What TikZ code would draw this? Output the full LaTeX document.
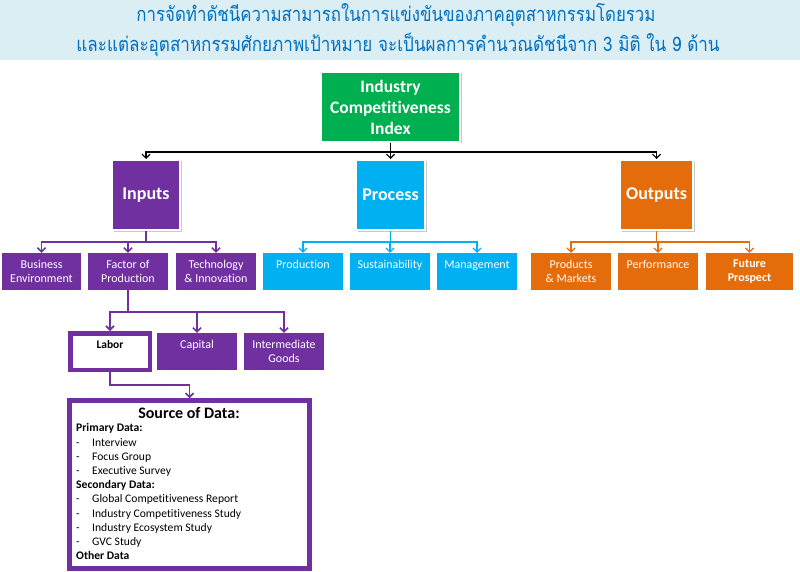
\documentclass[tikz,border=0pt]{standalone}
\usepackage{fontspec}
\usepackage{graphicx}
\setmainfont{Carlito}[Ligatures=NoCommon]
\newfontfamily\thaifont[Script=Thai]{Loma}
\usetikzlibrary{arrows.meta,shadows}
\definecolor{ipurple}{RGB}{112,48,160}
\definecolor{icyan}{RGB}{0,176,240}
\definecolor{iorange}{RGB}{228,108,10}
\definecolor{igreen}{RGB}{0,176,80}
\definecolor{hdrbg}{RGB}{219,238,244}
\definecolor{hdrtxt}{RGB}{0,112,192}
\begin{document}
\begin{tikzpicture}[x=1pt,y=-1pt,
  titletext/.style={text=hdrtxt, font=\thaifont\fontsize{20}{22}\selectfont, inner sep=0pt},
  mainbox/.style={draw=white, line width=2pt, text=white, align=center, inner sep=0pt,
    minimum height=70pt, font=\bfseries\fontsize{18}{21}\selectfont,
    drop shadow={shadow xshift=1.5pt, shadow yshift=-1.5pt, opacity=0.35, fill=black!60}},
  subbox/.style={minimum height=37pt, minimum width=80pt, text=white, align=center,
    inner sep=0pt, font=\fontsize{12}{14}\selectfont},
  tipv/.style={-{Straight Barb[length=4pt,width=8pt]}},
  blkconn/.style={draw=black, line width=1.2pt, tipv},
  purconn/.style={draw=ipurple, line width=1.6pt, tipv},
  cyconn/.style={draw=icyan, line width=1.2pt, tipv},
  orconn/.style={draw=iorange, line width=1.2pt, tipv},
  thickbox/.style={draw=ipurple, line width=4.5pt, fill=white, inner sep=0pt}
]
\useasboundingbox (0,0) rectangle (800,572);
\fill[hdrbg] (0,0) rectangle (800,60);
\node[titletext] (t1) at (396,15) {\resizebox{519pt}{\height}{การจัดทำดัชนีความสามารถในการแข่งขันของภาคอุตสาหกรรมโดยรวม}};
\node[titletext] (t2) at (398,45) {\resizebox{643pt}{\height}{และแต่ละอุตสาหกรรมศักยภาพเป้าหมาย จะเป็นผลการคำนวณดัชนีจาก 3 มิติ ใน 9 ด้าน}};

% main boxes
\node[mainbox, fill=igreen, minimum width=139pt, font=\bfseries\fontsize{17.5}{21}\selectfont] (ici) at (390.5,107) {Industry\\Competitiveness\\Index};
\node[mainbox, fill=ipurple, minimum width=68pt] (inputs) at (146,195) {Inputs};
\node[mainbox, fill=icyan, minimum width=69pt] (process) at (390.5,195) {Process};
\node[mainbox, fill=iorange, minimum width=73pt] (outputs) at (656.5,195) {Outputs};

% sub boxes
\node[subbox, fill=ipurple, minimum width=79pt] (be) at (41.5,271.5) {Business\\Environment};
\node[subbox, fill=ipurple] (fop) at (128,271.5) {Factor of\\Production};
\node[subbox, fill=ipurple] (ti) at (216,271.5) {Technology\\\& Innovation};
\node[subbox, fill=icyan] (prod) at (303,271.5) {Production\\\mbox{}};
\node[subbox, fill=icyan] (sus) at (390,271.5) {Sustainability\\\mbox{}};
\node[subbox, fill=icyan] (man) at (477,271.5) {Management\\\mbox{}};
\node[subbox, fill=iorange] (pm) at (571,271.5) {Products\\\& Markets};
\node[subbox, fill=iorange] (perf) at (658,271.5) {Performance\\\mbox{}};
\node[subbox, fill=iorange, minimum width=87pt, font=\bfseries\fontsize{12}{14}\selectfont] (fut) at (749.5,271.5) {Future\\Prospect};

% factor sub boxes
\node[thickbox, minimum width=79.5pt, minimum height=36.5pt, align=center,
  font=\bfseries\fontsize{11.5}{14}\selectfont] (labor) at (110,351.5) {Labor\\\mbox{}};
\node[subbox, fill=ipurple] (cap) at (197,351.5) {Capital\\\mbox{}};
\node[subbox, fill=ipurple] (ig) at (284,351.5) {Intermediate\\Goods};

% source box
\node[thickbox, minimum width=240pt, minimum height=168pt] (src) at (189.5,484.5) {};
\node[font=\bfseries\fontsize{16}{18}\selectfont, inner sep=0pt] (srctitle) at (189,413) {Source of Data:};
\node[anchor=north west, align=left, inner sep=0pt, font=\fontsize{11.6}{14.2}\selectfont] (srclist) at (76,423.5)
{\textbf{Primary Data:}\\
\makebox[16pt][l]{-}Interview\\
\makebox[16pt][l]{-}Focus Group\\
\makebox[16pt][l]{-}Executive Survey\\
\textbf{Secondary Data:}\\
\makebox[16pt][l]{-}Global Competitiveness Report\\
\makebox[16pt][l]{-}Industry Competitiveness Study\\
\makebox[16pt][l]{-}Industry Ecosystem Study\\
\makebox[16pt][l]{-}GVC Study\\
\textbf{Other Data}};

% connectors
\foreach \t in {inputs,process,outputs}
  \draw[blkconn] (ici.south) -- (ici.south |- 0,152) -| (\t.north);
\foreach \t in {be,fop,ti}
  \draw[purconn] (inputs.south) -- (inputs.south |- 0,242) -| (\t.north);
\foreach \t in {prod,sus,man}
  \draw[cyconn] (process.south) -- (process.south |- 0,242) -| (\t.north);
\foreach \t in {pm,perf,fut}
  \draw[orconn] (outputs.south) -- (outputs.south |- 0,242) -| (\t.north);
\foreach \t in {labor,cap,ig}
  \draw[purconn] (fop.south) -- (fop.south |- 0,312) -| (\t.north);
\draw[purconn] (labor.south) -- (labor.south |- 0,385) -| (src.north);
\end{tikzpicture}
\end{document}
